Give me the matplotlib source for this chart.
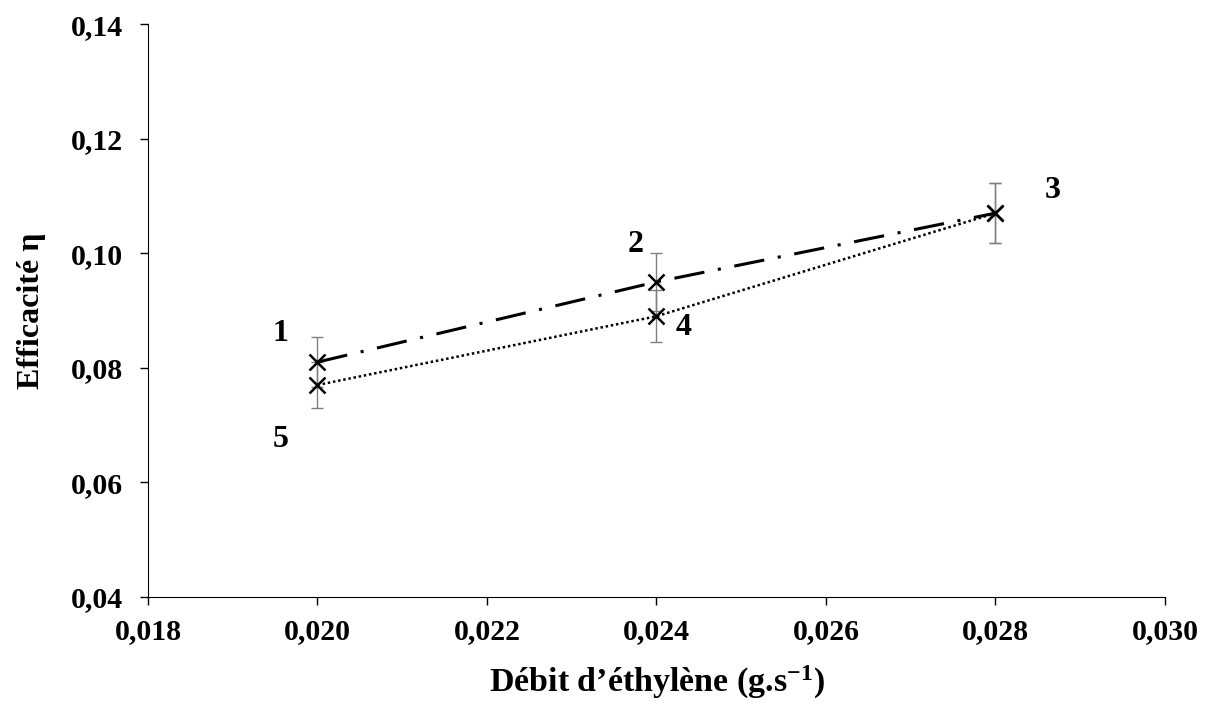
import numpy as np
import matplotlib.pyplot as plt

plt.rcParams['font.family'] = ['Liberation Serif', 'DejaVu Serif']
plt.rcParams['font.weight'] = 'bold'
plt.rcParams['mathtext.fontset'] = 'custom'
plt.rcParams['mathtext.rm'] = 'Liberation Serif:bold'
plt.rcParams['mathtext.bf'] = 'Liberation Serif:bold'
plt.rcParams['mathtext.it'] = 'Liberation Serif:bold'

# series 1 -> 2 -> 3 (dash-dot)
debit_a = [0.020, 0.024, 0.028]
eff_a = [0.081, 0.095, 0.107]
err_a = [0.0044, 0.0050, 0.0053]
# series 5 -> 4 -> 3 (dotted)
debit_b = [0.020, 0.024, 0.028]
eff_b = [0.077, 0.089, 0.107]
err_b = [0.0040, 0.0045, 0.0053]

point_labels = ['1', '2', '3', '4', '5']
label_x = [0.01956, 0.02375, 0.02867, 0.02432, 0.01957]
label_y = [0.0835, 0.0990, 0.1085, 0.0845, 0.0650]

xticks = [0.018, 0.020, 0.022, 0.024, 0.026, 0.028, 0.030]
yticks = [0.04, 0.06, 0.08, 0.10, 0.12, 0.14]

fig = plt.figure(figsize=(12.1, 7.08), dpi=100)
ax = fig.add_axes([0.1223, 0.1568, 0.8405, 0.8092])

ax.errorbar(debit_a, eff_a, yerr=err_a, fmt='none', ecolor='gray', elinewidth=1, capsize=4, capthick=1)
ax.errorbar(debit_b, eff_b, yerr=err_b, fmt='none', ecolor='gray', elinewidth=1, capsize=4, capthick=1)
ax.plot(debit_a, eff_a, color='black', lw=2.2, dashes=(10, 4.5, 1, 4.5))
ax.plot(debit_b, eff_b, color='black', lw=1.8, linestyle=(0, (1, 1.1)))
ax.plot(debit_a, eff_a, 'x', color='black', ms=12, mew=1.8, linestyle='none')
ax.plot(debit_b, eff_b, 'x', color='black', ms=12, mew=1.8, linestyle='none')

for t, x, y in zip(point_labels, label_x, label_y):
    ax.text(x, y, t, fontsize=23, fontweight='bold', ha='center', va='bottom')

ax.set_xlim(0.018, 0.030)
ax.set_ylim(0.04, 0.14)
ax.set_xticks(xticks)
ax.set_yticks(yticks)
ax.set_xticklabels([('%.3f' % v).replace('.', ',') for v in xticks])
ax.set_yticklabels([('%.2f' % v).replace('.', ',') for v in yticks])
ax.tick_params(labelsize=21.5, direction='out', length=6, width=1)
ax.tick_params(axis='x', pad=9)
ax.tick_params(axis='y', pad=12)
for lbl in ax.get_xticklabels() + ax.get_yticklabels():
    lbl.set_fontweight('bold')
ax.spines['top'].set_visible(False)
ax.spines['right'].set_visible(False)

ax.set_xlabel('Débit d\u2019éthylène (g.s$^{-1}$)', fontsize=24.5, fontweight='bold', labelpad=14)
ax.set_ylabel('Efficacité η', fontsize=23, fontweight='bold', labelpad=18)

fig.savefig('out.png', dpi=100)
